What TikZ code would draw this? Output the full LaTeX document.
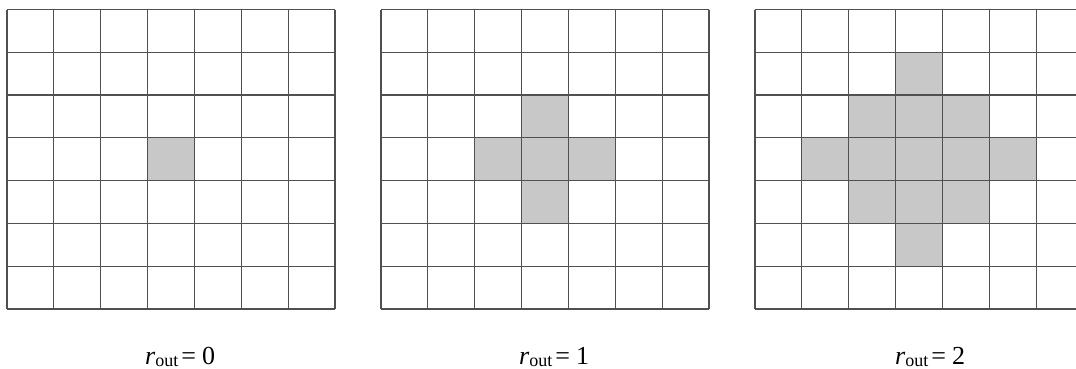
\documentclass[tikz,border=0pt]{standalone}
\usepackage{fontspec}
\setmainfont{Liberation Serif}
\definecolor{gridline}{HTML}{505050}
\definecolor{cellfill}{HTML}{C8C8C8}
\tikzset{
  gridstyle/.style={draw=gridline, line width=1.2pt},
  shade cell/.style={fill=cellfill, draw=none},
  lbl/.style={anchor=base west, inner sep=0pt, font=\fontsize{26}{30}\selectfont}
}
\newcommand{\rlabel}[1]{\textit{r}\raisebox{-2pt}{\fontsize{18}{20}\selectfont out}\kern3pt=\kern6pt#1}
\begin{document}
\begin{tikzpicture}[x=1pt,y=1pt]
  \useasboundingbox (0,0) rectangle (1076,368);
  \pgfmathsetmacro{\cw}{328/7}
  \pgfmathsetmacro{\ch}{299.5/7}
  % shaded cells: |dx|+|dy| <= r
  \foreach \gx/\r in {7/0, 381/1, 755/2}{
    \foreach \i in {0,...,6}{
      \foreach \j in {0,...,6}{
        \pgfmathtruncatemacro{\d}{abs(\i-3)+abs(\j-3)}
        \ifnum\d>\r\relax\else
          \fill[shade cell] ({\gx+\i*\cw},{358.5-\j*\ch}) rectangle ({\gx+(\i+1)*\cw},{358.5-(\j+1)*\ch});
        \fi
      }
    }
    \foreach \i in {0,...,7}{
      \draw[gridstyle] ({\gx+\i*\cw},358.5) -- ({\gx+\i*\cw},59);
      \draw[gridstyle] (\gx,{358.5-\i*\ch}) -- ({\gx+328},{358.5-\i*\ch});
    }
  }
  \node[lbl] (l0) at (145,4) {\rlabel{0}};
  \node[lbl] (l1) at (519,4) {\rlabel{1}};
  \node[lbl] (l2) at (895,4) {\rlabel{2}};
\end{tikzpicture}
\end{document}
